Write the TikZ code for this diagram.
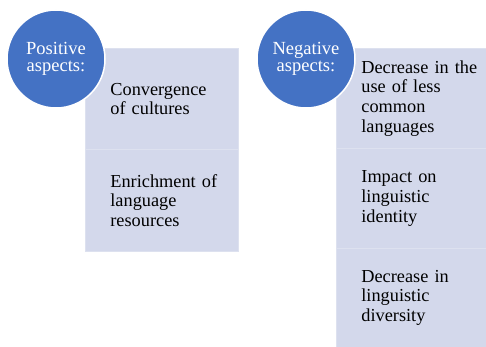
\documentclass[tikz,border=0pt]{standalone}
\usepackage{fontspec}
\setmainfont{Liberation Serif}
\definecolor{circblue}{HTML}{4472C4}
\definecolor{boxfill}{HTML}{D3D8EB}
\definecolor{sepline}{HTML}{DDE1EF}
\begin{document}
\begin{tikzpicture}[x=1pt,y=-1pt,
  itembox/.style={fill=boxfill, draw=sepline, line width=0.8pt, minimum width=#1, anchor=north west,
     inner sep=0pt, text width=#1, align=left, font=\fontsize{18.3}{19.7}\selectfont, text=black},
  headcirc/.style={circle, fill=circblue, draw=white, line width=1.5pt, minimum size=98pt, inner sep=0pt,
     text=white, align=center, font=\fontsize{18.5}{18.5}\selectfont}
]
\useasboundingbox (0,0) rectangle (486,347);
% left column
\node[itembox=153pt, minimum height=101pt] (l1) at (85,48) {\hspace*{25pt}\parbox[c]{125pt}{Convergence\\of cultures}};
\node[itembox=153pt, minimum height=102pt] (l2) at (85,149) {\hspace*{25pt}\parbox[c]{125pt}{Enrichment of\\language\\resources}};
\node[headcirc] (lc) at (56,59) {Positive\\[-1pt]aspects:};
% right column
\node[itembox=150pt, minimum height=100pt] (r1) at (336,48) {\hspace*{25pt}\parbox[c]{124pt}{Decrease in the\\use of less\\common\\languages}};
\node[itembox=150pt, minimum height=100pt] (r2) at (336,148) {\hspace*{25pt}\parbox[c]{124pt}{Impact on\\linguistic\\identity}};
\node[itembox=150pt, minimum height=99pt] (r3) at (336,248) {\hspace*{25pt}\parbox[c]{124pt}{Decrease in\\linguistic\\diversity}};
\node[headcirc] (rc) at (306,59) {Negative\\[-1pt]aspects:};
\end{tikzpicture}
\end{document}
